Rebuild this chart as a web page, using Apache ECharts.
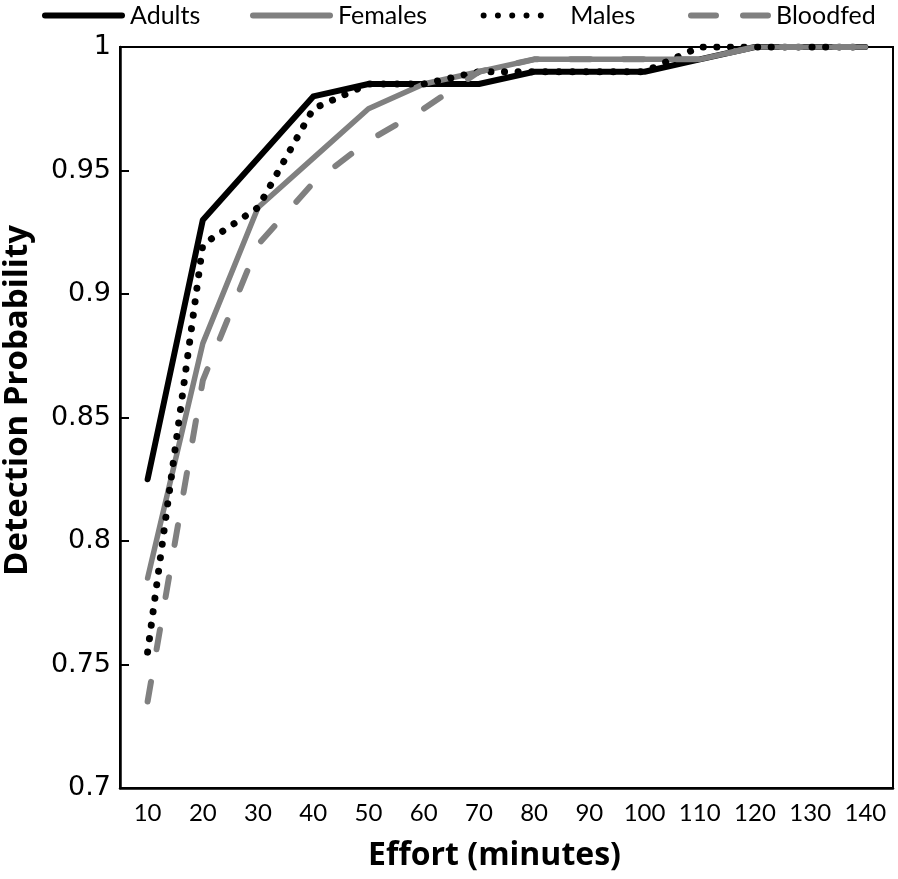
<!DOCTYPE html>
<html>
<head>
<meta charset="utf-8">
<script src="https://cdn.jsdelivr.net/npm/echarts@6/dist/echarts.min.js"></script>
<style>
html,body{margin:0;padding:0;background:#fff;}
#chart{width:898px;height:879px;}
</style>
</head>
<body>
<div id="chart"></div>
<script>
const categories = ['10','20','30','40','50','60','70','80','90','100','110','120','130','140'];
const adults   = [0.825,0.93,0.955,0.98,0.985,0.985,0.985,0.99,0.99,0.99,0.995,1,1,1];
const females  = [0.785,0.88,0.935,0.955,0.975,0.985,0.99,0.995,0.995,0.995,0.995,1,1,1];
const males    = [0.755,0.92,0.935,0.975,0.985,0.985,0.99,0.99,0.99,0.99,1,1,1,1];
const bloodfed = [0.735,0.865,0.92,0.945,0.962,0.975,0.99,0.995,0.995,0.995,0.995,1,1,1];
const seriesNames = ['Adults','Females','Males','Bloodfed'];
const yTicks = {min:0.7, max:1, interval:0.05};

// legend icon shapes (box 83 x 6)
const iconSolid = 'path://M3,0 L80,0 A3,3 0 0 1 80,6 L3,6 A3,3 0 0 1 3,0 Z';
function dotsPath(){
  let p = 'path://M0,0 L0.01,0 L0.01,0.01 Z M90,6 L89.99,6 L89.99,5.99 Z';
  [6,21.25,36.5,51.75,67].forEach(function(c){
    p += ' M'+(c-3.2)+',3 A3.2,3.2 0 1 0 '+(c+3.2)+',3 A3.2,3.2 0 1 0 '+(c-3.2)+',3 Z';
  });
  return p;
}
const iconDots = dotsPath();
const iconDash = 'path://M3,0 L28,0 A3,3 0 0 1 28,6 L3,6 A3,3 0 0 1 3,0 Z M55,0 L80,0 A3,3 0 0 1 80,6 L55,6 A3,3 0 0 1 55,0 Z';

const chart = echarts.init(document.getElementById('chart'));
const labelFont = 'Lato, "Liberation Sans", sans-serif';
const titleFont = '"Open Sans", sans-serif';
function legendItem(name, icon, left, w){
  return {
    top:-2, left:left, itemWidth:w, itemHeight:6, padding:[5,5,5,0],
    textStyle:{fontFamily:labelFont, fontSize:25, color:'#000'},
    data:[{name:name, icon:icon}]
  };
}
chart.setOption({
  animation:false,
  backgroundColor:'#fff',
  legend:[
    legendItem(seriesNames[0], iconSolid, 42, 83),
    legendItem(seriesNames[1], iconSolid, 250, 83),
    legendItem(seriesNames[2], iconDots, 478, 90),
    legendItem(seriesNames[3], iconDash, 688, 83)
  ],
  grid:{left:120, right:5, top:47, bottom:91, containLabel:false, outerBoundsMode:'none',
        show:true, borderColor:'#000', borderWidth:2, backgroundColor:'transparent'},
  xAxis:{
    type:'category', data:categories, boundaryGap:true,
    name:'Effort (minutes)', nameLocation:'middle', nameGap:52,
    nameTextStyle:{fontFamily:titleFont, fontWeight:'bold', fontSize:32, color:'#000', padding:[0,24,0,0]},
    axisLine:{lineStyle:{color:'#000', width:2.5}},
    axisTick:{inside:true, length:8, interval:0, lineStyle:{color:'#000', width:2}},
    axisLabel:{fontFamily:labelFont, fontSize:24, color:'#000', margin:13, interval:0, hideOverlap:false},
    splitLine:{show:false}
  },
  yAxis:{
    type:'value', min:yTicks.min, max:yTicks.max, interval:yTicks.interval,
    name:'Detection Probability', nameLocation:'middle', nameGap:86, nameRotate:90,
    nameTextStyle:{fontFamily:titleFont, fontWeight:'bold', fontSize:33, color:'#000', padding:[0,0,0,34]},
    axisLine:{show:true, lineStyle:{color:'#000', width:2.5}},
    axisTick:{show:true, inside:true, length:9, lineStyle:{color:'#000', width:2}},
    axisLabel:{fontFamily:'"DejaVu Sans", sans-serif', fontSize:27, color:'#000', margin:9},
    splitLine:{show:false}
  },
  series:[
    {name:'Adults', type:'line', data:adults, symbol:'none', color:'#000',
     lineStyle:{color:'#000', width:6, cap:'round', join:'round'}},
    {name:'Females', type:'line', data:females, symbol:'none', color:'#808080',
     lineStyle:{color:'#808080', width:5.5, cap:'round', join:'round'}},
    {name:'Males', type:'line', data:males, symbol:'none', color:'#000',
     lineStyle:{color:'#000', width:7, type:[0.1,13.5], cap:'round', join:'round'}},
    {name:'Bloodfed', type:'line', data:bloodfed, symbol:'none', color:'#808080',
     lineStyle:{color:'#808080', width:6, type:[20,33], cap:'round', join:'round'}}
  ]
});
</script>
</body>
</html>
